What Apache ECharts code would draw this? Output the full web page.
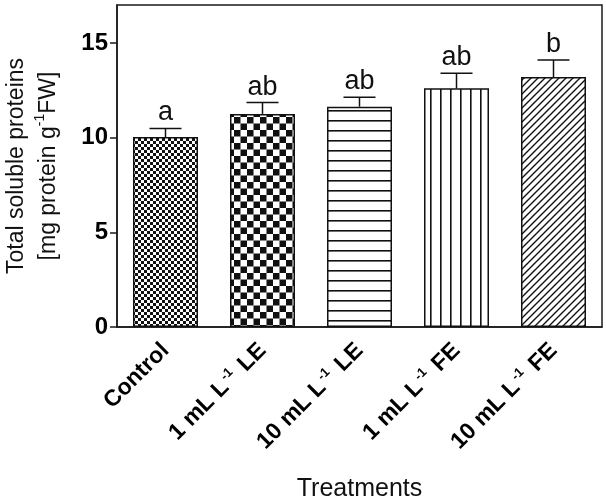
<!DOCTYPE html>
<html>
<head>
<meta charset="utf-8">
<script src="https://cdn.jsdelivr.net/npm/echarts@6/dist/echarts.min.js"></script>
<style>html,body{margin:0;padding:0;background:#fff}#c{width:606px;height:501px}</style>
</head>
<body>
<div id="c"></div>
<script>
const categories = ['Control', '1 mL L-1 LE', '10 mL L-1 LE', '1 mL L-1 FE', '10 mL L-1 FE'];
const categoryLabels = [
  '{b|Control}',
  '{b|1 mL L}{s|-1}{b| LE}',
  '{b|10 mL L}{s|-1}{b| LE}',
  '{b|1 mL L}{s|-1}{b| FE}',
  '{b|10 mL L}{s|-1}{b| FE}'
];
const values = [10.03, 11.25, 11.63, 12.6, 13.2];
const errors = [0.45, 0.6, 0.5, 0.8, 0.9];
const letters = ['a', 'ab', 'ab', 'ab', 'b'];
const yTicks = [0, 5, 10, 15];

function mk(w, h, draw) {
  const c = document.createElement('canvas');
  c.width = w; c.height = h;
  const g = c.getContext('2d');
  g.fillStyle = '#fff'; g.fillRect(0, 0, w, h);
  g.fillStyle = '#111'; g.strokeStyle = '#111';
  draw(g, w, h);
  return c;
}
const patterns = [
  mk(6, 6, g => { g.fillRect(0,0,3,3); g.fillRect(3,3,3,3); }),
  mk(13, 13, g => { g.fillRect(0,0,6.5,6.5); g.fillRect(6.5,6.5,6.5,6.5); }),
  mk(10, 10, g => { g.fillRect(0,0,10,1.6); }),
  mk(10, 10, g => { g.fillRect(0,0,1.6,10); }),
  mk(7, 7, g => {
    g.lineWidth = 1.4;
    g.beginPath();
    g.moveTo(-1, 8); g.lineTo(8, -1);
    g.moveTo(-1, 1); g.lineTo(1, -1);
    g.moveTo(6, 8); g.lineTo(8, 6);
    g.stroke();
  })
];

const chart = echarts.init(document.getElementById('c'));
const font = 'Liberation Sans, Arial, sans-serif';
chart.setOption({
  animation: false,
  grid: { left: 117, right: 4, top: 5, bottom: 174, show: true, borderColor: '#1a1a1a', borderWidth: 1.5, backgroundColor: 'transparent', containLabel: false, outerBoundsMode: 'none' },
  xAxis: {
    type: 'category',
    data: categories,
    axisLine: { lineStyle: { color: '#1a1a1a', width: 1.5 } },
    axisTick: { alignWithLabel: true, length: 7, lineStyle: { color: '#1a1a1a', width: 1.5 } },
    axisLabel: {
      rotate: 45, margin: 20, interval: 0, color: '#000',
      formatter: (v, i) => categoryLabels[i],
      rich: {
        b: { fontFamily: font, fontWeight: 'bold', fontSize: 23, color: '#000', lineHeight: 25 },
        s: { fontFamily: font, fontWeight: 'bold', fontSize: 13, color: '#000', verticalAlign: 'top', lineHeight: 25, padding: [0, 3, 0, 2] }
      }
    },
    name: 'Treatments', nameLocation: 'middle', nameGap: 150,
    nameTextStyle: { fontFamily: font, fontSize: 25, color: '#111' }
  },
  yAxis: {
    type: 'value', min: 0, max: 17, interval: 5,
    splitLine: { show: false },
    axisLine: { show: true, lineStyle: { color: '#1a1a1a', width: 1.5 } },
    axisTick: { show: true, length: 7, customValues: yTicks, lineStyle: { color: '#1a1a1a', width: 1.5 } },
    axisLabel: {
      margin: 9, color: '#000', fontFamily: font, fontWeight: 'bold', fontSize: 24,
      customValues: yTicks,
      formatter: v => String(v)
    },
    name: '{t|Total soluble proteins}\n{t|[mg protein g}{s|-1}{t|FW]}',
    nameLocation: 'middle', nameRotate: 90, nameGap: 52,
    nameTextStyle: {
      rich: {
        t: { fontFamily: font, fontSize: 23, color: '#111', lineHeight: 32 },
        s: { fontFamily: font, fontSize: 14, color: '#111', verticalAlign: 'top', lineHeight: 32 }
      }
    }
  },
  series: [
    {
      type: 'bar',
      barWidth: '67%',
      data: values.map((v, i) => ({
        value: v,
        itemStyle: { color: { image: patterns[i], repeat: 'repeat' }, borderColor: '#111', borderWidth: 1.5 }
      }))
    },
    {
      type: 'custom',
      data: values.map((v, i) => [i, v, errors[i]]),
      renderItem: (params, api) => {
        const i = api.value(0), v = api.value(1), e = api.value(2);
        const p0 = api.coord([i, v]);
        const p1 = api.coord([i, v + e]);
        const hw = 16;
        return {
          type: 'group',
          children: [
            { type: 'line', shape: { x1: p0[0], y1: p0[1], x2: p1[0], y2: p1[1] }, style: { stroke: '#111', lineWidth: 1.5 } },
            { type: 'line', shape: { x1: p1[0] - hw, y1: p1[1], x2: p1[0] + hw, y2: p1[1] }, style: { stroke: '#111', lineWidth: 1.5 } },
            { type: 'text', x: p1[0], y: p1[1] - 2, style: { text: letters[params.dataIndex], textAlign: 'center', textVerticalAlign: 'bottom', fontFamily: font, fontSize: 27, fill: '#111' } }
          ]
        };
      },
      z: 5
    }
  ]
});
</script>
</body>
</html>
